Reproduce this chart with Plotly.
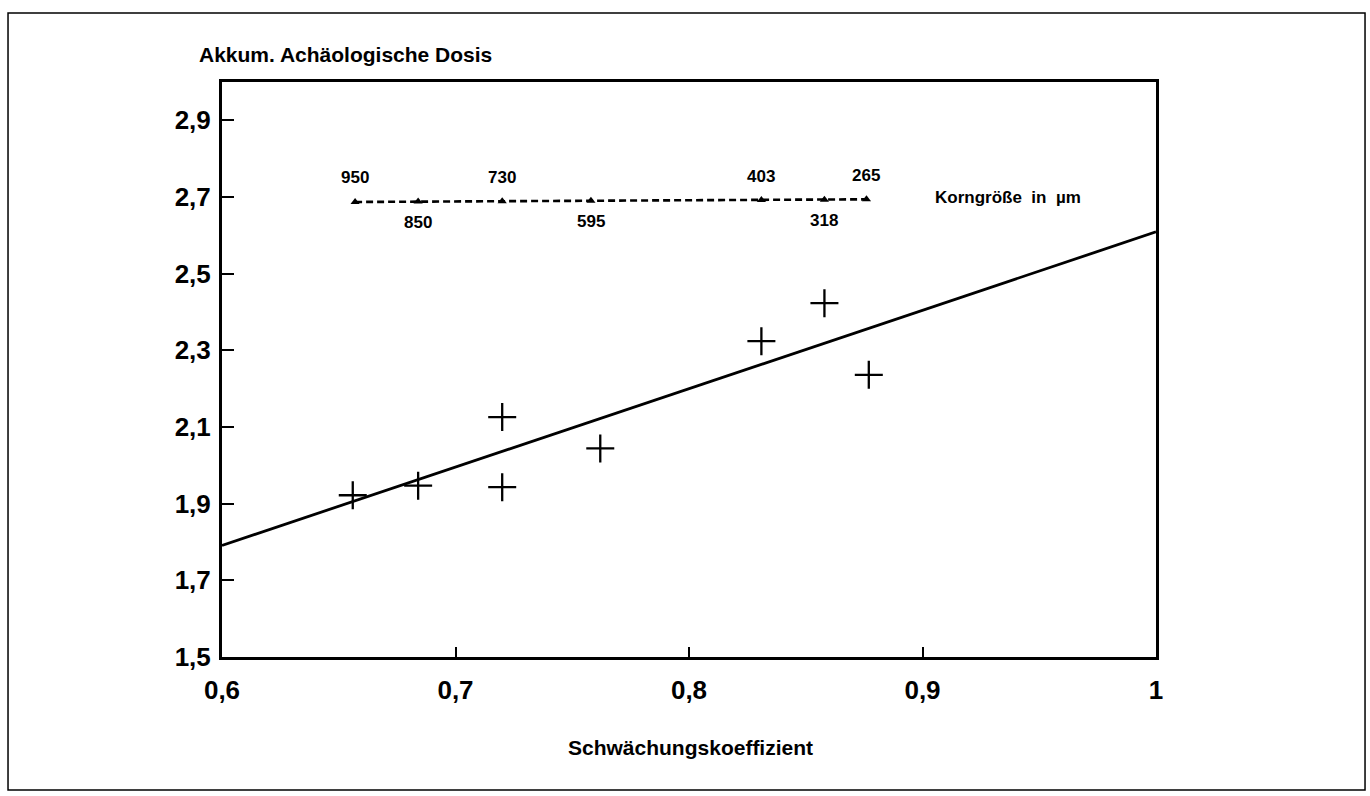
import plotly.graph_objects as go

# Measured samples: attenuation coefficient vs. accumulated archaeological dose
coef = [0.656, 0.684, 0.720, 0.720, 0.762, 0.831, 0.858, 0.877]
dose = [1.922, 1.947, 2.126, 1.943, 2.044, 2.324, 2.423, 2.236]

# Regression line end points
fit_x = [0.6, 1.0]
fit_y = [1.791, 2.609]

# Grain-size scale drawn across the top of the plot
grain_size = [950, 850, 730, 595, 403, 318, 265]
grain_coef = [0.657, 0.684, 0.720, 0.758, 0.831, 0.858, 0.876]
grain_level = [2.687, 2.688, 2.689, 2.690, 2.692, 2.693, 2.694]
grain_label_side = ["above", "below", "above", "below", "above", "below", "above"]

# Axis ticks
x_ticks = [0.6, 0.7, 0.8, 0.9, 1.0]
x_tick_text = ["0,6", "0,7", "0,8", "0,9", "1"]
y_ticks = [1.5, 1.7, 1.9, 2.1, 2.3, 2.5, 2.7, 2.9]
y_tick_text = ["1,5", "1,7", "1,9", "2,1", "2,3", "2,5", "2,7", "2,9"]

FONT = "Liberation Sans, Arial, sans-serif"

fig = go.Figure()

fig.add_trace(go.Scatter(
    x=fit_x, y=fit_y, mode="lines",
    line=dict(color="black", width=2.8),
    hoverinfo="skip", showlegend=False,
))

fig.add_trace(go.Scatter(
    x=coef, y=dose, mode="markers",
    marker=dict(symbol="cross-thin", size=20,
                line=dict(color="black", width=2.3)),
    showlegend=False,
))

fig.add_trace(go.Scatter(
    x=grain_coef, y=grain_level, mode="lines+markers",
    line=dict(color="black", width=2.6, dash="7px,4px"),
    marker=dict(symbol="triangle-up", size=8, color="black"),
    showlegend=False,
))

for gx, gy, gs, side in zip(grain_coef, grain_level, grain_size, grain_label_side):
    fig.add_annotation(
        x=gx, y=gy, text=str(gs), showarrow=False,
        yshift=24 if side == "above" else -21,
        font=dict(family=FONT, size=17, color="black", weight="bold"),
    )

fig.add_annotation(
    x=0.9045, y=2.699, xref="x", yref="y", xanchor="left", yanchor="middle",
    text="Korngröße  in  µm", showarrow=False,
    font=dict(family=FONT, size=17, color="black", weight="bold"),
)

fig.add_annotation(
    x=-0.027, y=1.047, xref="paper", yref="paper", xanchor="left", yanchor="middle",
    text="Akkum. Achäologische Dosis", showarrow=False,
    font=dict(family=FONT, size=21, color="black", weight="bold"),
)

fig.add_annotation(
    x=0.502, y=-0.158, xref="paper", yref="paper", xanchor="center", yanchor="middle",
    text="Schwächungskoeffizient", showarrow=False,
    font=dict(family=FONT, size=21, color="black", weight="bold"),
)

# Outer frame around the whole figure
fig.add_shape(
    type="rect", xref="paper", yref="paper",
    x0=-0.2291, x1=1.2238, y0=-0.2313, y1=1.12,
    line=dict(color="black", width=1.5), fillcolor="rgba(0,0,0,0)",
)

fig.update_xaxes(
    range=[0.6, 1.0], tickvals=x_ticks, ticktext=x_tick_text,
    showline=True, linecolor="black", linewidth=3, mirror=True,
    ticks="inside", ticklen=10, tickwidth=2, tickcolor="black",
    showgrid=False, zeroline=False, ticklabelstandoff=8,
    tickfont=dict(family=FONT, size=26, color="black", weight="bold"),
)
fig.update_yaxes(
    range=[1.5, 3.0], tickvals=y_ticks, ticktext=y_tick_text,
    showline=True, linecolor="black", linewidth=3, mirror=True,
    ticks="inside", ticklen=12, tickwidth=2, tickcolor="black",
    showgrid=False, zeroline=False, ticklabelstandoff=3,
    tickfont=dict(family=FONT, size=26, color="black", weight="bold"),
)

fig.update_layout(
    width=1370, height=796,
    margin=dict(l=222, r=214, t=82, b=139),
    paper_bgcolor="white", plot_bgcolor="white",
    font=dict(family=FONT, color="black"),
)

fig.write_html("out.html")
